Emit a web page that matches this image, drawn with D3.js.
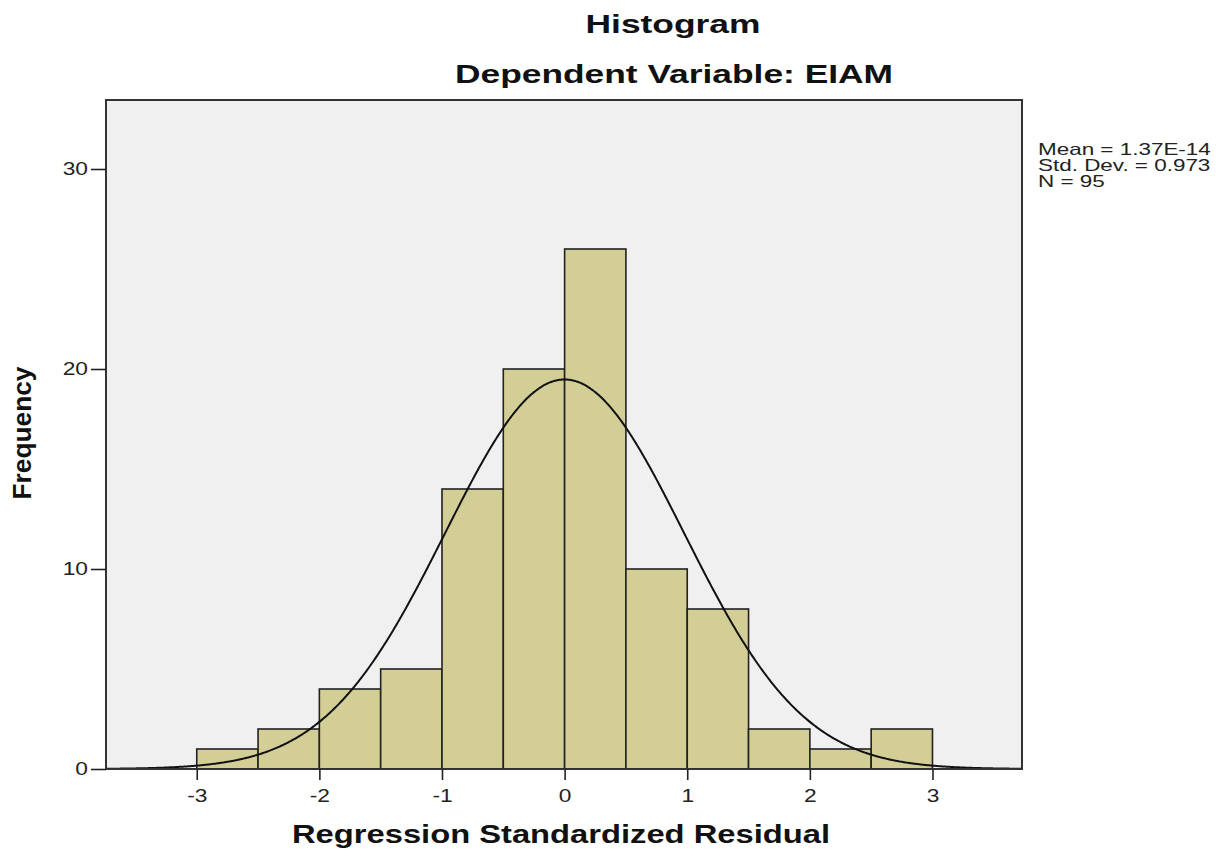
<!DOCTYPE html>
<html><head><meta charset="utf-8">
<script src="https://cdn.jsdelivr.net/npm/d3@7"></script>
<style>body{margin:0;background:#fff}svg{display:block}text{font-family:"Liberation Sans",Arial,sans-serif}</style>
</head><body><svg id="c" width="1231" height="851"></svg>
<script>
const binStarts = [-3,-2.5,-2,-1.5,-1,-0.5,0,0.5,1,1.5,2,2.5];
const binWidth = 0.5;
const counts = [1,2,4,5,14,20,26,10,8,2,1,2];
const xTicks = [-3,-2,-1,0,1,2,3];
const yTicks = [0,10,20,30];
const stats = ["Mean = 1.37E-14","Std. Dev. = 0.973","N = 95"];
const meanVal = 0, sdVal = 0.973, nVal = 95;

const svg = d3.select("#c");
const L=106,R=1022,T=100,B=769;
const x = d3.scaleLinear().domain([-3.74,3.73]).range([L,R]);
const y = d3.scaleLinear().domain([0,33.45]).range([B,T]);

function stretch(sel, s){ sel.each(function(){ const w=this.getComputedTextLength(); d3.select(this).attr("textLength", w*s).attr("lengthAdjust","spacingAndGlyphs"); }); }

svg.append("rect").attr("x",L).attr("y",T).attr("width",R-L).attr("height",B-T).attr("fill","#f0f0f0");

svg.selectAll("rect.bar").data(counts).enter().append("rect").attr("class","bar")
 .attr("x",(d,i)=>x(binStarts[i])).attr("width",(d,i)=>x(binStarts[i]+binWidth)-x(binStarts[i]))
 .attr("y",d=>y(d)).attr("height",d=>y(0)-y(d))
 .attr("fill","#d3ce96").attr("stroke","#222").attr("stroke-width",1.6);

const pts = d3.range(-3.74,3.731,0.01).map(v=>[v, nVal*binWidth/(sdVal*Math.sqrt(2*Math.PI))*Math.exp(-0.5*((v-meanVal)/sdVal)**2)]);
svg.append("path").datum(pts).attr("fill","none").attr("stroke","#111").attr("stroke-width",2)
 .attr("d",d3.line().x(d=>x(d[0])).y(d=>y(d[1])).curve(d3.curveBasis));

svg.append("rect").attr("x",L).attr("y",T).attr("width",R-L).attr("height",B-T).attr("fill","none").attr("stroke","#333").attr("stroke-width",2);

const xa = svg.append("g").attr("transform",`translate(0,${B})`).call(d3.axisBottom(x).tickValues(xTicks).tickSize(11).tickPadding(10).tickFormat(d=>String(d)));
const ya = svg.append("g").attr("transform",`translate(${L},0)`).call(d3.axisLeft(y).tickValues(yTicks).tickSize(15).tickPadding(3).tickFormat(d=>String(d)));
[xa,ya].forEach(a=>{a.attr("font-size",null).attr("font-family",null);a.select(".domain").remove();a.selectAll("line").attr("stroke","#222").attr("stroke-width",1.6);a.selectAll("text").attr("font-size",17.5).attr("fill","#222");stretch(a.selectAll("text"),1.3);});

svg.append("text").attr("x",673).attr("y",33).attr("text-anchor","middle").attr("font-size",25).attr("font-weight","bold").attr("fill","#111").attr("textLength",175).attr("lengthAdjust","spacingAndGlyphs").text("Histogram");
svg.append("text").attr("x",674).attr("y",83).attr("text-anchor","middle").attr("font-size",25).attr("font-weight","bold").attr("fill","#111").attr("textLength",438).attr("lengthAdjust","spacingAndGlyphs").text("Dependent Variable: EIAM");
svg.append("text").attr("x",561).attr("y",843).attr("text-anchor","middle").attr("font-size",25).attr("font-weight","bold").attr("fill","#111").attr("textLength",538).attr("lengthAdjust","spacingAndGlyphs").text("Regression Standardized Residual");
svg.append("text").attr("transform","translate(31,433) rotate(-90)").attr("text-anchor","middle").attr("font-size",25).attr("font-weight","bold").attr("fill","#111").attr("textLength",133).attr("lengthAdjust","spacingAndGlyphs").text("Frequency");

const st = svg.append("g").selectAll("text").data(stats).enter().append("text")
 .attr("x",1038).attr("y",(d,i)=>155+i*16).attr("font-size",16.5).attr("fill","#222").text(d=>d);
stretch(st,1.36);
</script></body></html>
